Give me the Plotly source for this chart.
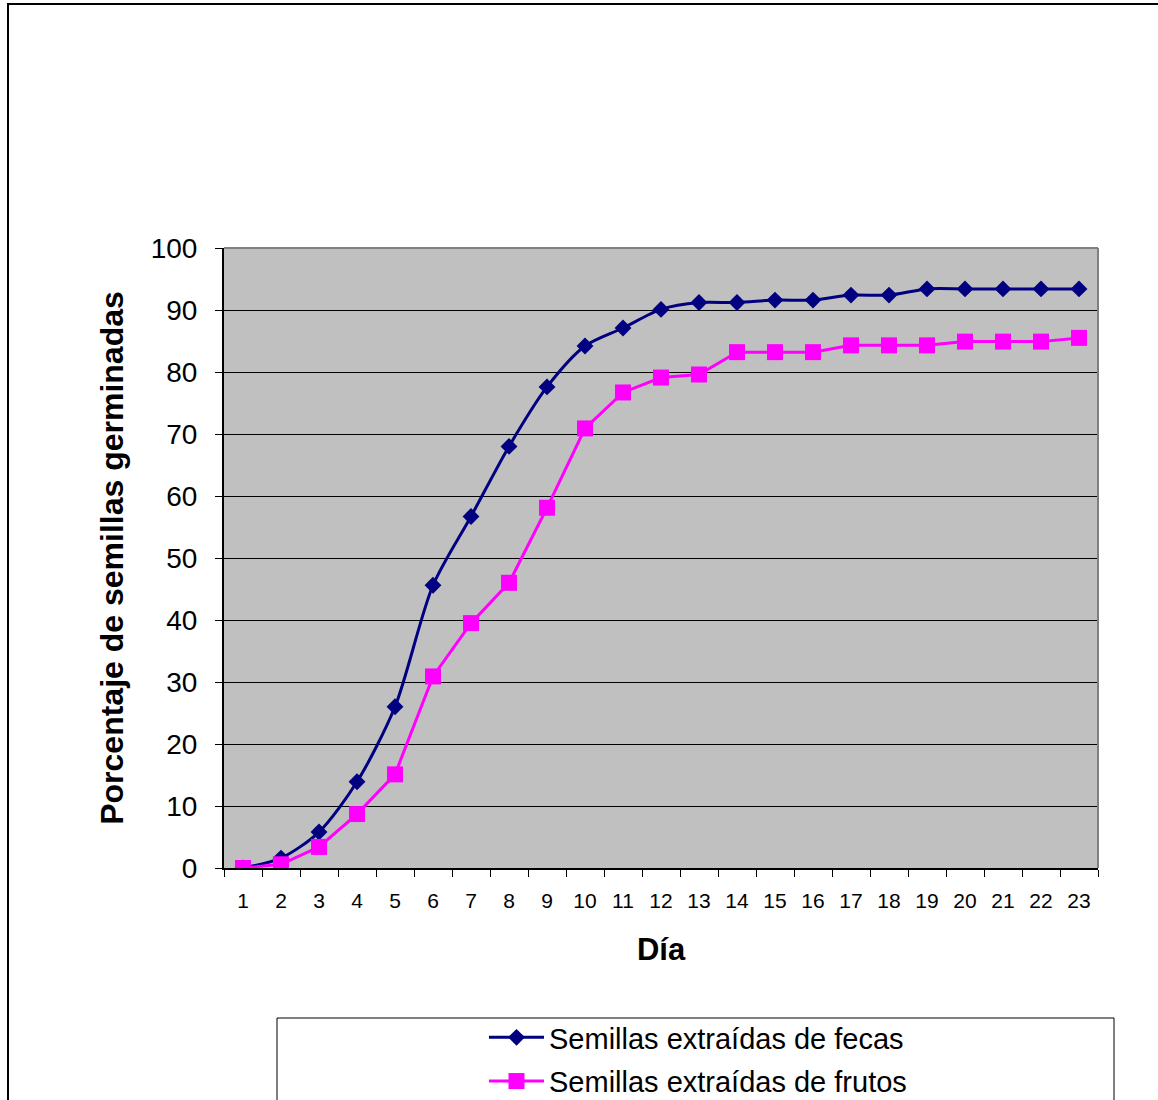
import plotly.graph_objects as go

# Germination curves (cumulative % of germinated seeds per day)
dias = [str(d) for d in range(1, 24)]
fecas = [0, 1.6, 5.8, 13.9, 26.0, 45.6, 56.7, 68.0, 77.6, 84.2, 87.1, 90.1,
         91.2, 91.2, 91.6, 91.6, 92.4, 92.4, 93.4, 93.4, 93.4, 93.4, 93.4]
frutos = [0, 0.6, 3.4, 8.7, 15.1, 30.9, 39.5, 46.0, 58.1, 70.9, 76.7, 79.1,
          79.6, 83.2, 83.2, 83.2, 84.3, 84.3, 84.3, 84.9, 84.9, 84.9, 85.5]
y_ticks = list(range(0, 101, 10))

FONT = "Arial, 'Liberation Sans', sans-serif"

fig = go.Figure()
fig.add_trace(go.Scatter(
    x=dias, y=fecas, name="Semillas extraídas de fecas",
    legendgroup="fecas",
    mode="lines+markers",
    line=dict(color="#000080", width=3, shape="spline", smoothing=0.8),
    marker=dict(symbol="diamond", size=13, color="#000080"),
))
fig.add_trace(go.Scatter(
    x=dias, y=frutos, name="Semillas extraídas de frutos",
    legendgroup="frutos",
    mode="lines+markers",
    line=dict(color="#FF00FF", width=3),
    marker=dict(symbol="square", size=16, color="#FF00FF"),
))

L, T, W, H = 224, 248, 874, 620
FW, FH = 1158, 1100


def px(x):
    return (x - L) / W


def py(y):
    return (T + H - y) / H


shapes = [
    # outer chart frame
    dict(type="rect", xref="paper", yref="paper",
         x0=px(8), x1=px(1165), y0=py(1110), y1=py(4),
         line=dict(color="#000000", width=2), layer="below"),
    # plot-area border (top and right)
    dict(type="line", xref="paper", yref="paper", x0=0, x1=1, y0=1, y1=1,
         line=dict(color="#808080", width=2)),
    dict(type="line", xref="paper", yref="paper", x0=1, x1=1, y0=0, y1=1,
         line=dict(color="#808080", width=2)),
    # legend frame
    dict(type="rect", xref="paper", yref="paper",
         x0=px(277), x1=px(1114), y0=py(1110), y1=py(1018),
         line=dict(color="#000000", width=1), fillcolor="white", layer="below"),
]

fig.update_layout(
    width=FW, height=FH,
    margin=dict(l=L, r=FW - L - W, t=T, b=FH - T - H, pad=0,
                autoexpand=False),
    paper_bgcolor="white",
    plot_bgcolor="#C0C0C0",
    font=dict(family=FONT, color="black"),
    shapes=shapes,
    showlegend=True,
    legend=dict(
        x=px(698), xanchor="center", y=py(1012), yanchor="top",
        bgcolor="rgba(0,0,0,0)", borderwidth=0,
        font=dict(size=29, family=FONT), itemwidth=55,
        tracegroupgap=3,
    ),
    xaxis=dict(
        type="category", tickson="boundaries", range=[-0.5, 22.5],
        ticks="outside", ticklen=7, tickcolor="black", tickwidth=1,
        showline=True, linecolor="black", linewidth=2,
        showgrid=False, tickfont=dict(size=21), ticklabelstandoff=13,
        title=dict(text="<b>Día</b>", font=dict(size=31), standoff=27),
    ),
    yaxis=dict(
        range=[0, 100], tickvals=y_ticks,
        ticks="outside", ticklen=7, tickcolor="black", tickwidth=1,
        showline=True, linecolor="black", linewidth=2,
        showgrid=True, gridcolor="black", gridwidth=1, zeroline=False,
        tickfont=dict(size=28), ticklabelstandoff=12,
        title=dict(text="<b>Porcentaje de semillas germinadas</b>",
                   font=dict(size=32), standoff=17),
    ),
)

fig.write_html("out.html")
